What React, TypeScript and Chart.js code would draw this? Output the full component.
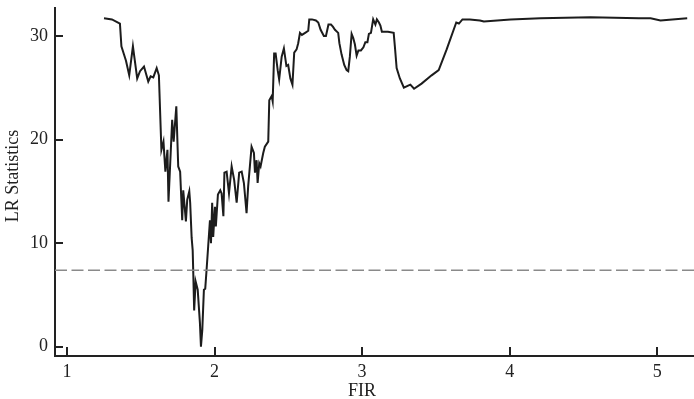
import React, { useEffect, useRef } from "react";
import { Chart, registerables } from "chart.js";

Chart.register(...registerables);

// FIR threshold values (x) and LR statistics (y)
const firValues = [
  1.251, 1.305, 1.359, 1.369, 1.400, 1.422, 1.447, 1.476, 1.495, 1.522,
  1.551, 1.567, 1.585, 1.608, 1.623, 1.640, 1.654, 1.667, 1.681, 1.688,
  1.713, 1.723, 1.741, 1.754, 1.767, 1.781, 1.788, 1.806, 1.815, 1.829,
  1.835, 1.845, 1.852, 1.856, 1.862, 1.872, 1.886, 1.901, 1.908, 1.917,
  1.928, 1.937, 1.946, 1.957, 1.969, 1.976, 1.984, 1.991, 2.003, 2.009,
  2.023, 2.039, 2.048, 2.060, 2.067, 2.082, 2.098, 2.116, 2.133, 2.150,
  2.167, 2.184, 2.199, 2.217, 2.228, 2.251, 2.267, 2.274, 2.285, 2.292,
  2.303, 2.312, 2.330, 2.341, 2.364, 2.371, 2.387, 2.394, 2.404, 2.414,
  2.428, 2.438, 2.455, 2.470, 2.487, 2.499, 2.514, 2.528, 2.540, 2.556,
  2.567, 2.579, 2.592, 2.614, 2.635, 2.642, 2.660, 2.687, 2.703, 2.719,
  2.741, 2.755, 2.772, 2.789, 2.802, 2.816, 2.838, 2.846, 2.861, 2.879,
  2.895, 2.906, 2.917, 2.929, 2.940, 2.951, 2.963, 2.975, 2.992, 3.009,
  3.022, 3.036, 3.046, 3.060, 3.068, 3.075, 3.090, 3.100, 3.114, 3.124,
  3.134, 3.175, 3.214, 3.222, 3.234, 3.256, 3.283, 3.312, 3.327, 3.352,
  3.403, 3.471, 3.519, 3.573, 3.638, 3.656, 3.680, 3.730, 3.798, 3.825,
  4.006, 4.209, 4.548, 4.875, 4.955, 5.022, 5.203,
];

const lrValues = [
  31.7, 31.6, 31.2, 29.0, 27.6, 26.2, 29.0, 25.9, 26.6, 27.05,
  25.6, 26.1, 26.0, 26.9, 26.2, 19.0, 19.8, 16.9, 19.0, 14.0,
  21.9, 19.8, 23.2, 17.4, 16.9, 12.2, 15.1, 12.1, 14.2, 15.0,
  13.9, 10.5, 9.3, 7.1, 3.5, 6.3, 5.5, 2.3, 0.0, 1.6,
  5.5, 5.6, 7.4, 9.7, 12.2, 10.0, 13.9, 10.6, 13.5, 11.6,
  14.7, 15.1, 14.8, 12.6, 16.8, 16.9, 14.8, 17.4, 16.1, 13.9,
  16.8, 16.9, 15.8, 12.9, 15.5, 19.3, 18.7, 16.8, 18.0, 15.8,
  17.7, 17.4, 18.7, 19.3, 19.8, 23.8, 24.2, 23.7, 28.3, 28.3,
  26.7, 25.8, 28.0, 28.8, 27.1, 27.2, 25.9, 25.3, 28.4, 28.7,
  29.3, 30.3, 30.1, 30.3, 30.5, 31.6, 31.6, 31.5, 31.3, 30.6,
  30.0, 30.0, 31.1, 31.1, 30.9, 30.6, 30.3, 29.3, 28.2, 27.2,
  26.7, 26.6, 28.0, 30.2, 29.8, 29.2, 28.1, 28.6, 28.6, 28.9,
  29.4, 29.4, 30.2, 30.3, 31.0, 31.6, 31.1, 31.6, 31.3, 31.0,
  30.4, 30.4, 30.3, 29.0, 26.9, 25.9, 25.0, 25.2, 25.3, 24.9,
  25.4, 26.2, 26.7, 28.7, 31.3, 31.2, 31.6, 31.6, 31.5, 31.4,
  31.6, 31.7, 31.8, 31.7, 31.7, 31.5, 31.7,
];

const criticalValue = 7.38;
const xTicks = [1, 2, 3, 4, 5];
const yTicks = [0, 10, 20, 30];
const xRange = [0.919, 5.249];
const yRange = [-0.9, 32.7];
const xLabel = "FIR";
const yLabel = "LR Statistics";

const FONT = '"Liberation Serif", "Times New Roman", serif';
const INK = "#222222";

const overlayPlugin = {
  id: "overlay",
  afterDraw(chart: any) {
    const { ctx, chartArea, scales } = chart;
    const xs = scales.x;
    const ys = scales.y;
    ctx.save();
    ctx.strokeStyle = INK;
    ctx.lineWidth = 2;
    ctx.beginPath();
    xTicks.forEach((v) => {
      const px = Math.round(xs.getPixelForValue(v));
      ctx.moveTo(px, chartArea.bottom);
      ctx.lineTo(px, chartArea.bottom - 9);
    });
    yTicks.forEach((v) => {
      const py = Math.round(ys.getPixelForValue(v));
      ctx.moveTo(chartArea.left, py);
      ctx.lineTo(chartArea.left + 8, py);
    });
    ctx.stroke();

    ctx.fillStyle = INK;
    ctx.font = `18px ${FONT}`;
    ctx.textAlign = "center";
    ctx.textBaseline = "middle";
    ctx.fillText(xLabel, xs.getPixelForValue(3), 391);
    ctx.translate(13.5, 176);
    ctx.rotate(-Math.PI / 2);
    ctx.fillText(yLabel, 0, 0);
    ctx.restore();
  },
};

export default function App() {
  const canvasRef = useRef<HTMLCanvasElement | null>(null);

  useEffect(() => {
    const canvas = canvasRef.current;
    if (!canvas) return;
    const points = firValues.map((x, i) => ({ x, y: lrValues[i] }));
    const critLine = [
      { x: xRange[0], y: criticalValue },
      { x: xRange[1], y: criticalValue },
    ];
    const chart = new Chart(canvas, {
      type: "scatter",
      data: {
        datasets: [
          {
            data: critLine,
            showLine: true,
            borderColor: "#8a8a8a",
            borderWidth: 1.4,
            borderDash: [12, 4.5],
            pointRadius: 0,
          },
          {
            data: points,
            showLine: true,
            borderColor: "#1c1c1c",
            borderWidth: 2,
            pointRadius: 0,
            tension: 0,
          },
        ],
      },
      options: {
        animation: false,
        responsive: false,
        maintainAspectRatio: false,
        layout: { padding: { top: 8, right: 0, left: 0, bottom: 0 } },
        plugins: {
          legend: { display: false },
          tooltip: { enabled: false },
          title: { display: false },
        },
        scales: {
          x: {
            type: "linear",
            min: xRange[0],
            max: xRange[1],
            grid: { display: false, drawTicks: false },
            border: { display: true, color: INK, width: 2 },
            afterBuildTicks: (scale: any) => {
              scale.ticks = xTicks.map((v) => ({ value: v }));
            },
            afterFit: (scale: any) => {
              scale.height = 43;
              scale.paddingLeft = 0;
              scale.paddingRight = 0;
            },
            ticks: {
              padding: 5,
              color: INK,
              font: { family: FONT, size: 18 },
              maxRotation: 0,
              autoSkip: false,
              callback: (v: any) => String(v),
            },
          },
          y: {
            type: "linear",
            min: yRange[0],
            max: yRange[1],
            grid: { display: false, drawTicks: false },
            border: { display: true, color: INK, width: 2 },
            afterBuildTicks: (scale: any) => {
              scale.ticks = yTicks.map((v) => ({ value: v }));
            },
            afterFit: (scale: any) => {
              scale.width = 55;
              scale.paddingTop = 0;
              scale.paddingBottom = 0;
            },
            ticks: {
              padding: 7,
              color: INK,
              font: { family: FONT, size: 18 },
              autoSkip: false,
              callback: (v: any) => String(v),
            },
          },
        },
      },
      plugins: [overlayPlugin],
    });
    return () => chart.destroy();
  }, []);

  return (
    <div style={{ position: "fixed", left: 0, top: 0, width: 694, height: 399, background: "#fff" }}>
      <canvas ref={canvasRef} width={694} height={399} style={{ width: 694, height: 399 }} />
    </div>
  );
}
